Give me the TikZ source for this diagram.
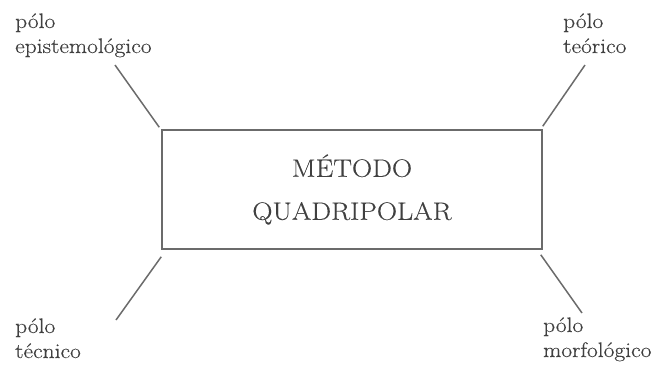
\documentclass[tikz,border=0pt]{standalone}
\usepackage{fontspec}
\setmainfont{Latin Modern Roman}[FakeStretch=1.12,FakeBold=0.3]
\begin{document}
\begin{tikzpicture}[x=1pt,y=-1pt,
  lbl/.style={anchor=base west,inner sep=0pt,align=left,text=black!75,
    font=\fontsize{21}{25}\selectfont},
  conn/.style={draw=black!58,line width=1.5pt},
  mainbox/.style={draw=black!58,line width=1.5pt,minimum width=380pt,minimum height=119pt,
    inner sep=0pt,align=center,text=black!75,font=\fontsize{25}{43}\selectfont}]
\useasboundingbox (0,0) rectangle (657,365);
\node[mainbox] (box) at (352,189.5) {MÉTODO\\QUADRIPOLAR};
\node[lbl] (epi) at (15,53) {pólo\\epistemológico};
\node[lbl] (teo) at (563,53) {pólo\\teórico};
\node[lbl] (tec) at (15,358) {pólo\\técnico};
\node[lbl] (mor) at (543,357) {pólo\\morfológico};
\coordinate (e1) at (115,65);
\coordinate (t1) at (585,65);
\coordinate (c1) at (116,320);
\coordinate (m1) at (582,313);
\draw[conn] ([shift={(-2,-2)}]box.north west) -- (e1);
\draw[conn] ([shift={(0,-3)}]box.north east) -- (t1);
\draw[conn] ([shift={(0,7)}]box.south west) -- (c1);
\draw[conn] ([shift={(-2,5)}]box.south east) -- (m1);
\end{tikzpicture}
\end{document}
